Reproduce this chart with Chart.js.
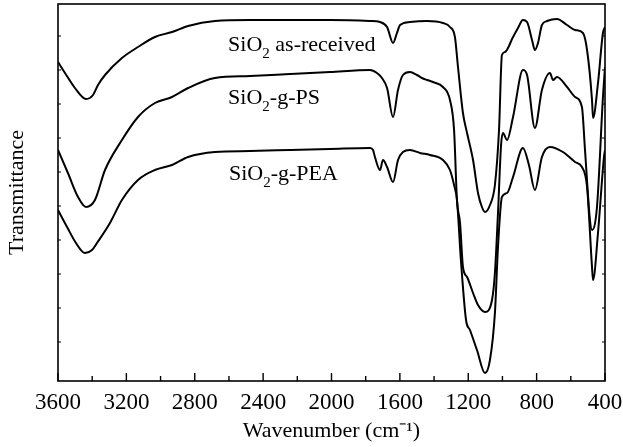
<!DOCTYPE html>
<html>
<head>
<meta charset="utf-8">
<script src="https://cdn.jsdelivr.net/npm/chart.js@4/dist/chart.umd.min.js"></script>
<style>
  body { margin: 0; background: #fff; }
  canvas { display: block; }
</style>
</head>
<body>
<canvas id="ftir" width="623" height="447"></canvas>
<script>
// FTIR spectra, transmittance in arbitrary units (no y scale in the figure)
const wnReceived = [3600, 3559, 3501, 3436, 3395, 3366, 3325, 3226, 3132, 3033, 2933, 2839, 2682, 2477, 2243, 2009, 1775, 1716, 1675, 1640, 1617, 1599, 1541, 1441, 1348, 1307, 1278, 1260, 1231, 1207, 1172, 1143, 1120, 1102, 1073, 1044, 1020, 1003, 985, 938, 909, 880, 856, 827, 810, 792, 769, 739, 681, 622, 575, 529, 505, 476, 470, 441, 412, 400];
const tReceived  = [319, 308, 293, 282, 286, 296, 306, 323, 334, 344, 349, 355, 360, 361, 361, 361, 360, 359, 354, 338, 348, 356, 359, 360, 358, 354, 344, 314, 268, 248, 221, 188, 174, 169, 176, 196, 251, 326, 329, 344, 353, 361, 359, 341, 331, 338, 356, 360, 362, 356, 351, 348, 331, 281, 263, 298, 348, 354];

const wnPS = [3600, 3542, 3483, 3436, 3384, 3325, 3226, 3132, 3033, 2933, 2839, 2682, 2477, 2243, 2009, 1775, 1734, 1705, 1675, 1640, 1611, 1582, 1541, 1500, 1471, 1441, 1406, 1348, 1307, 1283, 1266, 1248, 1231, 1207, 1172, 1143, 1102, 1061, 1044, 1026, 1008, 997, 973, 938, 880, 856, 810, 769, 722, 704, 681, 622, 575, 535, 517, 488, 476, 447, 412, 400];
const tPS  = [231, 208, 184, 174, 181, 211, 241, 264, 278, 284, 293, 303, 305, 307, 309, 311, 308, 303, 293, 264, 291, 306, 309, 306, 303, 301, 299, 294, 281, 251, 181, 158, 114, 104, 88, 76, 69, 81, 108, 168, 236, 248, 241, 264, 311, 306, 253, 291, 308, 301, 304, 294, 284, 274, 231, 161, 151, 174, 284, 314];

const wnPEA = [3600, 3547, 3495, 3442, 3401, 3372, 3296, 3226, 3132, 3033, 2933, 2839, 2682, 2477, 2243, 2009, 1775, 1757, 1746, 1716, 1699, 1675, 1640, 1611, 1582, 1541, 1482, 1424, 1348, 1307, 1283, 1266, 1243, 1213, 1190, 1149, 1102, 1073, 1044, 1026, 1003, 973, 938, 880, 845, 810, 769, 722, 646, 575, 535, 505, 476, 470, 441, 406, 400];
const tPEA  = [171, 154, 138, 128, 131, 138, 158, 181, 201, 211, 216, 224, 229, 230, 231, 232, 233, 231, 224, 211, 221, 214, 199, 221, 229, 231, 228, 226, 221, 211, 196, 181, 121, 61, 51, 31, 8, 21, 68, 134, 184, 188, 204, 233, 216, 191, 224, 234, 229, 219, 214, 194, 114, 101, 148, 224, 231];

const xTicks = [3600, 3200, 2800, 2400, 2000, 1600, 1200, 800, 400];

// in-plot sample labels: [text before subscript, subscript, rest, wavenumber, transmittance]
const sampleLabels = [
    ['SiO', '2', ' as-received', 2605, 330],
    ['SiO', '2', '-g-PS', 2605, 277],
    ['SiO', '2', '-g-PEA', 2600, 201]
];

function toPoints(xs, ys) {
    return xs.map((x, i) => ({ x: x, y: ys[i] }));
}

const serif = '"Liberation Serif", "Times New Roman", serif';

// frame, inward tick marks and text labels
const framePlugin = {
    id: 'frame',
    afterDatasetsDraw(chart) {
        const ctx = chart.ctx;
        const area = chart.chartArea;
        const xs = chart.scales.x;
        const ys = chart.scales.y;
        ctx.save();
        ctx.strokeStyle = '#000';
        ctx.lineWidth = 1.6;
        ctx.strokeRect(area.left, area.top, area.right - area.left, area.bottom - area.top);

        ctx.lineWidth = 1.4;
        ctx.beginPath();
        for (let v = 400; v <= 3600; v += 200) {
            const px = xs.getPixelForValue(v);
            const len = (v % 400 === 0) ? 8 : 5;
            ctx.moveTo(px, area.bottom);
            ctx.lineTo(px, area.bottom - len);
        }
        ctx.stroke();

        ctx.lineWidth = 1;
        ctx.beginPath();
        for (let t = 39; t < 377; t += 34) {
            const py = ys.getPixelForValue(t);
            ctx.moveTo(area.left, py);
            ctx.lineTo(area.left + 3, py);
            ctx.moveTo(area.right, py);
            ctx.lineTo(area.right - 3, py);
        }
        ctx.stroke();

        ctx.fillStyle = '#000';
        ctx.textBaseline = 'alphabetic';
        sampleLabels.forEach(lab => {
            let px = xs.getPixelForValue(lab[3]);
            const py = ys.getPixelForValue(lab[4]);
            ctx.font = '22px ' + serif;
            ctx.fillText(lab[0], px, py);
            px += ctx.measureText(lab[0]).width;
            ctx.font = '15px ' + serif;
            ctx.fillText(lab[1], px, py + 7);
            px += ctx.measureText(lab[1]).width;
            ctx.font = '22px ' + serif;
            ctx.fillText(lab[2], px, py);
        });
        ctx.restore();
    }
};

const lineStyle = {
    showLine: true,
    borderColor: '#000',
    borderWidth: 2,
    pointRadius: 0,
    cubicInterpolationMode: 'monotone',
    fill: false
};

new Chart(document.getElementById('ftir').getContext('2d'), {
    type: 'scatter',
    data: {
        datasets: [
            Object.assign({ label: 'SiO2 as-received', data: toPoints(wnReceived, tReceived) }, lineStyle),
            Object.assign({ label: 'SiO2-g-PS', data: toPoints(wnPS, tPS) }, lineStyle),
            Object.assign({ label: 'SiO2-g-PEA', data: toPoints(wnPEA, tPEA) }, lineStyle)
        ]
    },
    options: {
        responsive: false,
        animation: false,
        layout: { padding: { left: 4, top: 4, right: 18, bottom: 3 } },
        plugins: {
            legend: { display: false },
            tooltip: { enabled: false }
        },
        scales: {
            x: {
                type: 'linear',
                reverse: true,
                min: 400,
                max: 3600,
                afterBuildTicks: scale => { scale.ticks = xTicks.map(v => ({ value: v })); },
                afterFit: scale => {
                    scale.height = 63;
                    scale.paddingLeft = 0;
                    scale.paddingRight = 0;
                },
                grid: { display: false, drawTicks: false },
                border: { display: false },
                ticks: {
                    color: '#000',
                    padding: 8,
                    maxRotation: 0,
                    font: { family: serif, size: 23 },
                    callback: value => String(value)
                },
                title: {
                    display: true,
                    text: 'Wavenumber (cm\u207B\u00B9)',
                    color: '#000',
                    padding: 0,
                    font: { family: serif, size: 22 }
                }
            },
            y: {
                min: 0,
                max: 377,
                afterFit: scale => { scale.width = 54; },
                grid: { display: false, drawTicks: false },
                border: { display: false },
                ticks: { display: false },
                title: {
                    display: true,
                    text: 'Transmittance',
                    color: '#000',
                    padding: 0,
                    font: { family: serif, size: 22 }
                }
            }
        }
    },
    plugins: [framePlugin]
});
</script>
</body>
</html>
